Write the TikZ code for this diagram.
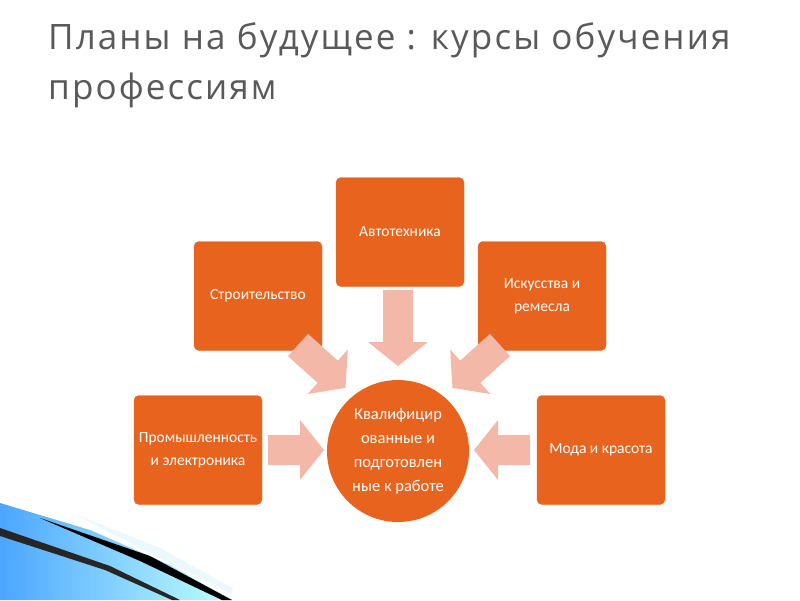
\documentclass[tikz,border=0pt]{standalone}
\usepackage{fontspec}
\setmainfont{Carlito}
\newfontfamily\titlefont[LetterSpace=6]{Open Sans}
\definecolor{org}{HTML}{E8641E}
\definecolor{pale}{HTML}{F4B8A9}
\definecolor{ttl}{HTML}{595959}
\tikzset{
 box/.style={draw=org,fill=org,rounded corners=5pt,minimum width=128pt,minimum height=109pt,text=white,align=center,font=\fontsize{15.5}{23}\selectfont},
 barrow/.style={fill=pale,draw=none}
}
\newcommand\blockarr[4]{\begin{scope}[shift={(#1,#2)},rotate=#3]
 \fill[barrow] (0,-15) -- (#4-24,-15) -- (#4-24,-30) -- (#4,0) -- (#4-24,30) -- (#4-24,15) -- (0,15) -- cycle;
\end{scope}}
\begin{document}
\begin{tikzpicture}[x=1pt,y=-1pt]
\useasboundingbox (0,0) rectangle (800,600);
\fill[white] (0,0) rectangle (800,600);
% decoration
\shade[left color=cyan!50!blue!70,right color=cyan!25] (0,503) -- (90,530) -- (170,565) -- (232,600) -- (0,600) -- cycle;
\fill[black] (40,518) -- (150,556) -- (232,600) -- (222,600) -- (140,561) -- cycle;
\fill[black!85] (0,528) -- (110,566) -- (180,600) -- (172,600) -- (105,570) -- (0,536) -- cycle;
\fill[cyan!8] (70,512) -- (160,548) -- (232,588) -- (232,594) -- (150,553)-- cycle;
\node[anchor=north west,text=ttl,font=\titlefont\fontsize{35}{50}\selectfont,align=left,inner sep=0pt] (title) at (48,22) {Планы на будущее : курсы обучения\\профессиям};
\node[box] (auto) at (400,232) {Автотехника};
\node[box] (str) at (258,296) {Строительство};
\node[box] (isk) at (542,296) {Искусства и\\ремесла};
\node[box] (prom) at (198,450) {Промышленность\\и электроника};
\node[box] (moda) at (601,450) {Мода и красота};
\node[circle,fill=org,minimum size=142pt,text=white,align=center,font=\fontsize{16.5}{24}\selectfont,inner sep=0pt] (c) at (398,451) {Квалифицир\\ованные и\\подготовлен\\ные к работе};
\blockarr{398}{290}{-90}{76}
\blockarr{268}{450}{0}{56}
\blockarr{530}{450}{180}{56}
\blockarr{298}{345}{-42}{64}
\blockarr{500}{345}{-138}{64}
\end{tikzpicture}
\end{document}
